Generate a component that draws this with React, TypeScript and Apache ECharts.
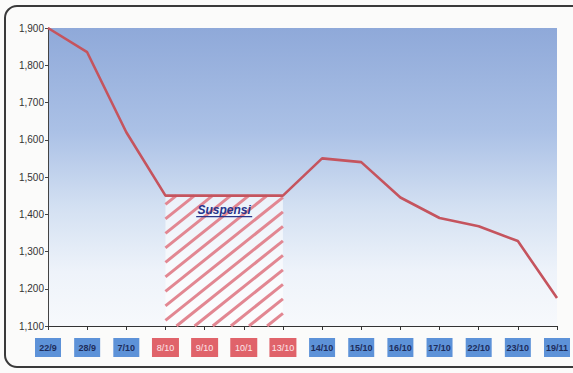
import React, { useEffect, useRef } from "react";
import * as echarts from "echarts";

// Trading days shown on the category axis
const dates = ["22/9", "28/9", "7/10", "8/10", "9/10", "10/1", "13/10", "14/10", "15/10", "16/10", "17/10", "22/10", "23/10", "19/11"];
// Index level at each trading day
const indexValues = [1900, 1835, 1620, 1450, 1450, 1450, 1450, 1550, 1540, 1445, 1390, 1368, 1328, 1175];
// Trading suspension period (first and last day)
const suspensionStart = "8/10";
const suspensionEnd = "13/10";
const suspensionLabel = "Suspensi";

const yMin = 1100;
const yMax = 1900;
const yStep = 100;

export default function App() {
  const ref = useRef<HTMLDivElement>(null);

  useEffect(() => {
    if (!ref.current) return;
    const chart = echarts.init(ref.current, null, { renderer: "svg" });
    const sIdx = dates.indexOf(suspensionStart);
    const eIdx = dates.indexOf(suspensionEnd);
    const suspendedLevel = indexValues[sIdx];

    const option: any = {
      animation: false,
      backgroundColor: "#fbfbfa",
      grid: {
        left: 48,
        right: 11,
        top: 28,
        bottom: 47,
        show: true,
        borderWidth: 0,
        backgroundColor: new echarts.graphic.LinearGradient(0, 0, 0, 1, [
          { offset: 0, color: "#8fa9d9" },
          { offset: 0.35, color: "#abc1e6" },
          { offset: 0.6, color: "#d3e0f2" },
          { offset: 0.82, color: "#eef3fa" },
          { offset: 1, color: "#f7f9fc" },
        ]),
      },
      xAxis: {
        type: "category",
        data: dates,
        boundaryGap: false,
        axisLine: { lineStyle: { color: "#333", width: 1.2 } },
        axisTick: { show: true, length: 4, lineStyle: { color: "#333" } },
        axisLabel: {
          margin: 12,
          interval: 0,
          formatter: (v: string, i: number) =>
            i >= sIdx && i <= eIdx ? `{r|${v}}` : `{b|${v}}`,
          rich: {
            b: {
              backgroundColor: "#5d92d8",
              color: "#1e2d5c",
              fontFamily: "Liberation Sans, Arial, sans-serif",
              fontSize: 9,
              fontWeight: "bold",
              width: 26,
              height: 19,
              align: "center",
              lineHeight: 19,
            },
            r: {
              backgroundColor: "#e0636a",
              color: "#fde8ea",
              fontFamily: "Liberation Sans, Arial, sans-serif",
              fontSize: 9,
              width: 27,
              height: 19,
              align: "center",
              lineHeight: 19,
            },
          },
        },
      },
      yAxis: {
        type: "value",
        min: yMin,
        max: yMax,
        interval: yStep,
        splitLine: { show: false },
        axisLine: { show: true, lineStyle: { color: "#444", width: 1 } },
        axisTick: { show: true, length: 3, lineStyle: { color: "#444" } },
        axisLabel: {
          margin: 4,
          color: "#333",
          fontSize: 10,
          fontFamily: "Liberation Sans, Arial, sans-serif",
          formatter: (v: number) => v.toLocaleString("en-US"),
        },
      },
      series: [
        {
          type: "custom",
          z: 1,
          data: [[sIdx, eIdx, suspendedLevel]],
          renderItem: (params: any, api: any) => {
            const tl = api.coord([api.value(0), api.value(2)]);
            const br = api.coord([api.value(1), yMin]);
            const xL = tl[0], yT = tl[1], xR = br[0], yB = br[1];
            // diagonal hatching: lines s*x + y = b, clipped to the box
            const s = 0.8;
            const gap = 14.5;
            const children: any[] = [
              {
                type: "rect",
                shape: { x: xL, y: yT, width: xR - xL, height: yB - yT },
                style: { fill: "rgba(255,255,255,0.6)" },
              },
            ];
            const bStart = s * xL + yT;
            const bEnd = s * xR + yB;
            for (let b = bStart + gap * 0.6; b < bEnd; b += gap) {
              const xLo = Math.max(xL, (b - yB) / s);
              const xHi = Math.min(xR, (b - yT) / s);
              if (xHi <= xLo) continue;
              children.push({
                type: "line",
                shape: { x1: xLo, y1: b - s * xLo, x2: xHi, y2: b - s * xHi },
                style: { stroke: "#e28792", lineWidth: 3 },
              });
            }
            const cx = (xL + xR) / 2;
            children.push({
              type: "text",
              style: {
                text: suspensionLabel,
                x: cx,
                y: yT + 14,
                align: "center",
                verticalAlign: "middle",
                fill: "#28348a",
                font: "italic bold 12px Liberation Sans, Arial, sans-serif",
              },
            });
            children.push({
              type: "line",
              shape: { x1: cx - 28, y1: yT + 21, x2: cx + 28, y2: yT + 21 },
              style: { stroke: "#28348a", lineWidth: 1.3 },
            });
            return { type: "group", children };
          },
        },
        {
          type: "line",
          z: 3,
          data: indexValues,
          symbol: "none",
          lineStyle: { color: "#c5545e", width: 2.6 },
        },
      ],
      graphic: [
        {
          type: "rect",
          z: 100,
          shape: { x: 5, y: 6, width: 590, height: 361, r: 12 },
          style: { fill: "none", stroke: "#3a3a3a", lineWidth: 2 },
        },
      ],
    };
    chart.setOption(option);
    return () => chart.dispose();
  }, []);

  return (
    <div
      ref={ref}
      style={{ position: "fixed", left: 0, top: 0, width: 573, height: 373 }}
    />
  );
}
